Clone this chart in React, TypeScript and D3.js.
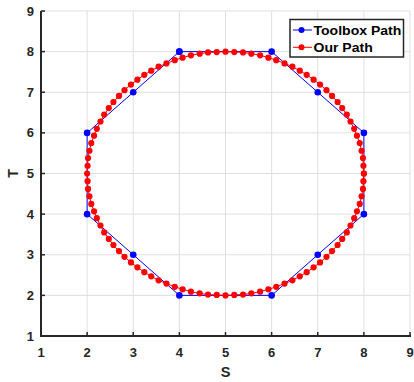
import React from 'react';
import * as d3 from 'd3';

// Toolbox path (octagon)
const toolboxS = [4, 6, 7, 8, 8, 7, 6, 4, 3, 2, 2, 3, 4];
const toolboxT = [8, 8, 7, 6, 4, 3, 2, 2, 3, 4, 6, 7, 8];

const ourS = [
  8.00, 7.99, 7.98, 7.95, 7.91, 7.85, 7.79, 7.71, 7.63, 7.53, 7.43, 7.31, 7.19, 7.05, 6.91, 6.76, 6.61, 6.45, 6.28, 6.10, 5.93, 5.75, 5.56, 5.38, 5.19,
  5.00, 4.81, 4.62, 4.44, 4.25, 4.07, 3.90, 3.72, 3.55, 3.39, 3.24, 3.09, 2.95, 2.81, 2.69, 2.57, 2.47, 2.37, 2.29, 2.21, 2.15, 2.09, 2.05, 2.02, 2.01,
  2.00, 2.01, 2.02, 2.05, 2.09, 2.15, 2.21, 2.29, 2.37, 2.47, 2.57, 2.69, 2.81, 2.95, 3.09, 3.24, 3.39, 3.55, 3.72, 3.90, 4.07, 4.25, 4.44, 4.62, 4.81,
  5.00, 5.19, 5.38, 5.56, 5.75, 5.93, 6.10, 6.28, 6.45, 6.61, 6.76, 6.91, 7.05, 7.19, 7.31, 7.43, 7.53, 7.63, 7.71, 7.79, 7.85, 7.91, 7.95, 7.98, 7.99,
  8.00,
];
const ourT = [
  5.00, 5.19, 5.38, 5.56, 5.75, 5.93, 6.10, 6.28, 6.45, 6.61, 6.76, 6.91, 7.05, 7.19, 7.31, 7.43, 7.53, 7.63, 7.71, 7.79, 7.85, 7.91, 7.95, 7.98, 7.99,
  8.00, 7.99, 7.98, 7.95, 7.91, 7.85, 7.79, 7.71, 7.63, 7.53, 7.43, 7.31, 7.19, 7.05, 6.91, 6.76, 6.61, 6.45, 6.28, 6.10, 5.93, 5.75, 5.56, 5.38, 5.19,
  5.00, 4.81, 4.62, 4.44, 4.25, 4.07, 3.90, 3.72, 3.55, 3.39, 3.24, 3.09, 2.95, 2.81, 2.69, 2.57, 2.47, 2.37, 2.29, 2.21, 2.15, 2.09, 2.05, 2.02, 2.01,
  2.00, 2.01, 2.02, 2.05, 2.09, 2.15, 2.21, 2.29, 2.37, 2.47, 2.57, 2.69, 2.81, 2.95, 3.09, 3.24, 3.39, 3.55, 3.72, 3.90, 4.07, 4.25, 4.44, 4.62, 4.81,
  5.00,
];

const xTicks = [1, 2, 3, 4, 5, 6, 7, 8, 9];
const yTicks = [1, 2, 3, 4, 5, 6, 7, 8, 9];

const seriesNames = ['Toolbox Path', 'Our Path'];

const W = 414;
const H = 382;
const FONT = '"Liberation Sans", Arial, sans-serif';
const AXIS = '#262626';
const BLUE = '#0000ff';
const RED = '#ff0000';
const SX = 1.04; // the picture's text is a touch wider than plain Arial

// bold text stretched horizontally around its anchor point
const Txt = ({ x, y, anchor = 'start', size, fill = AXIS, children }: {
  x: number; y: number; anchor?: string; size: number; fill?: string; children: React.ReactNode;
}) => (
  <text
    transform={`translate(${x},${y}) scale(${SX},1)`}
    textAnchor={anchor}
    fontFamily={FONT}
    fontWeight="bold"
    fontSize={size}
    fill={fill}
  >
    {children}
  </text>
);

export default function App() {
  const x = d3.scaleLinear().domain([1, 9]).range([41, 410]);
  const y = d3.scaleLinear().domain([1, 9]).range([336, 11]);

  const line = d3.line<[number, number]>()
    .x(d => x(d[0]))
    .y(d => y(d[1]));

  const toolbox: [number, number][] = toolboxS.map((s, i) => [s, toolboxT[i]]);
  const ours: [number, number][] = ourS.map((s, i) => [s, ourT[i]]);

  // legend box
  const legX = 290;
  const legY = 19.5;
  const legW = 113.5;
  const legH = 37.5;

  return (
    <svg width={W} height={H} style={{ position: 'absolute', left: 0, top: 0, background: '#fff' }}>
      {/* grid */}
      <g stroke="#dfdfdf" strokeWidth={1}>
        {xTicks.map(t => (
          <line key={'gx' + t} x1={x(t)} x2={x(t)} y1={y(1)} y2={y(9)} />
        ))}
        {yTicks.map(t => (
          <line key={'gy' + t} x1={x(1)} x2={x(9)} y1={y(t)} y2={y(t)} />
        ))}
      </g>

      {/* toolbox path */}
      <path d={line(toolbox) ?? ''} fill="none" stroke={BLUE} strokeWidth={1} />
      {toolbox.map((d, i) => (
        <circle key={'b' + i} cx={x(d[0])} cy={y(d[1])} r={3.3} fill={BLUE} />
      ))}

      {/* our path */}
      <path d={line(ours) ?? ''} fill="none" stroke={RED} strokeWidth={1} />
      {ours.map((d, i) => (
        <circle key={'r' + i} cx={x(d[0])} cy={y(d[1])} r={3.1} fill={RED} />
      ))}

      {/* axes */}
      <g stroke={AXIS} strokeWidth={2}>
        <line x1={x(1)} x2={x(9) + 1} y1={y(1)} y2={y(1)} />
        <line x1={x(1)} x2={x(1)} y1={y(1) + 1} y2={y(9)} />
        {xTicks.map(t => (
          <line key={'tx' + t} x1={x(t)} x2={x(t)} y1={y(1)} y2={y(1) - 4} strokeWidth={1.5} />
        ))}
        {yTicks.map(t => (
          <line key={'ty' + t} x1={x(1)} x2={x(1) + 4} y1={y(t)} y2={y(t)} strokeWidth={1.5} />
        ))}
      </g>
      {xTicks.map(t => (
        <Txt key={'lx' + t} x={x(t)} y={357} anchor="middle" size={12.5}>{t}</Txt>
      ))}
      {yTicks.map(t => (
        <Txt key={'ly' + t} x={x(1) - 7} y={y(t) + 4.5} anchor="end" size={12.5}>{t}</Txt>
      ))}
      <Txt x={(x(1) + x(9)) / 2} y={377} anchor="middle" size={14}>S</Txt>
      <text
        transform={`translate(18,${(y(1) + y(9)) / 2}) rotate(-90)`}
        textAnchor="middle"
        fontFamily={FONT}
        fontWeight="bold"
        fontSize={14}
        fill={AXIS}
      >
        T
      </text>

      {/* legend */}
      <rect x={legX} y={legY} width={legW} height={legH} fill="#fff" stroke={AXIS} strokeWidth={1.5} />
      {seriesNames.map((name, i) => {
        const cy = 30 + i * 17.3;
        const c = i === 0 ? BLUE : RED;
        return (
          <g key={name}>
            <line x1={293} x2={312} y1={cy} y2={cy} stroke={c} strokeWidth={1} />
            <circle cx={301.5} cy={cy} r={3} fill={c} />
            <Txt x={313.5} y={cy + 5} size={13.5} fill="#000">{name}</Txt>
          </g>
        );
      })}
    </svg>
  );
}
